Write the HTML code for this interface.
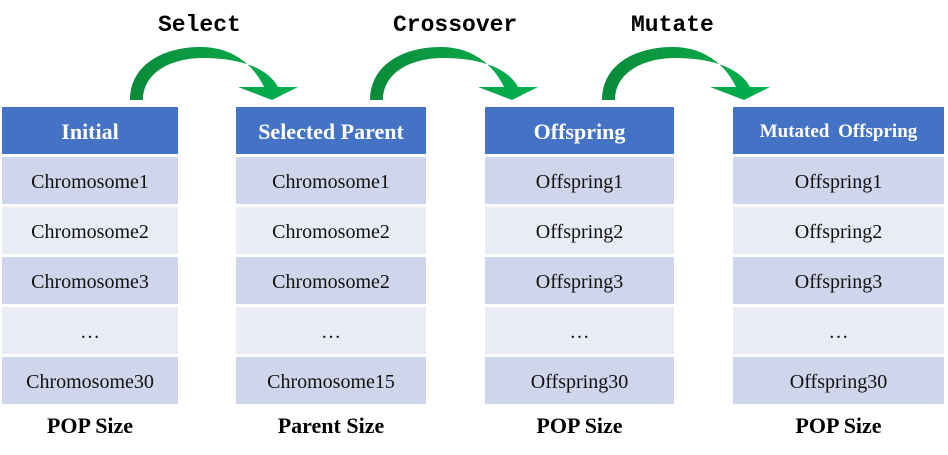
<!DOCTYPE html>
<html><head><meta charset="utf-8"><style>
body{margin:0;width:948px;height:455px;background:#fff;position:relative;overflow:hidden;font-family:"Liberation Serif",serif}
.t{position:absolute;top:107px}
.h{height:47px;background:#4472C4;color:#fff;font-weight:bold;font-size:22px;display:flex;align-items:center;justify-content:center;margin-bottom:3px;padding-top:2px;box-sizing:border-box}
.r{height:47px;display:flex;align-items:center;justify-content:center;font-size:20px;margin-bottom:3px;color:#111;padding-top:4px;box-sizing:border-box}
.a{background:#CFD5EA}.b{background:#E9EBF5}
.f{position:absolute;top:413px;font-weight:bold;font-size:22px;text-align:center}
.m{position:absolute;top:12px;font-family:"Liberation Mono",monospace;font-weight:bold;font-size:23px}
</style></head><body>
<svg width="948" height="110" style="position:absolute;left:0;top:0">
<defs><linearGradient id="g" x1="0" y1="0" x2="1" y2="0"><stop offset="0" stop-color="#0a8a3a"/><stop offset="0.5" stop-color="#0aa045"/><stop offset="1" stop-color="#00b050"/></linearGradient></defs>
<g fill="url(#g)">
<path d="M130,100 C130,62 168,46 203,47 C236,48 255,68 264,87 L238,87 L272,100 L298,87 L278,87 C268,68 240,58 203,58 C172,58 143,72 143,100 Z"/>
<path transform="translate(240,0)" d="M130,100 C130,62 168,46 203,47 C236,48 255,68 264,87 L238,87 L272,100 L298,87 L278,87 C268,68 240,58 203,58 C172,58 143,72 143,100 Z"/>
<path transform="translate(472,0)" d="M130,100 C130,62 168,46 203,47 C236,48 255,68 264,87 L238,87 L272,100 L298,87 L278,87 C268,68 240,58 203,58 C172,58 143,72 143,100 Z"/>
</g></svg>
<div class="m" style="left:158px">Select</div>
<div class="m" style="left:393px">Crossover</div>
<div class="m" style="left:631px">Mutate</div>

<div class="t" style="left:2px;width:176px"><div class="h">Initial</div><div class="r a">Chromosome1</div><div class="r b">Chromosome2</div><div class="r a">Chromosome3</div><div class="r b">…</div><div class="r a">Chromosome30</div></div>
<div class="t" style="left:236px;width:190px"><div class="h">Selected Parent</div><div class="r a">Chromosome1</div><div class="r b">Chromosome2</div><div class="r a">Chromosome2</div><div class="r b">…</div><div class="r a">Chromosome15</div></div>
<div class="t" style="left:485px;width:189px"><div class="h">Offspring</div><div class="r a">Offspring1</div><div class="r b">Offspring2</div><div class="r a">Offspring3</div><div class="r b">…</div><div class="r a">Offspring30</div></div>
<div class="t" style="left:733px;width:211px"><div class="h" style="font-size:19px;word-spacing:4px">Mutated Offspring</div><div class="r a">Offspring1</div><div class="r b">Offspring2</div><div class="r a">Offspring3</div><div class="r b">…</div><div class="r a">Offspring30</div></div>

<div class="f" style="left:2px;width:176px">POP Size</div>
<div class="f" style="left:236px;width:190px">Parent Size</div>
<div class="f" style="left:485px;width:189px">POP Size</div>
<div class="f" style="left:733px;width:211px">POP Size</div>
</body></html>
